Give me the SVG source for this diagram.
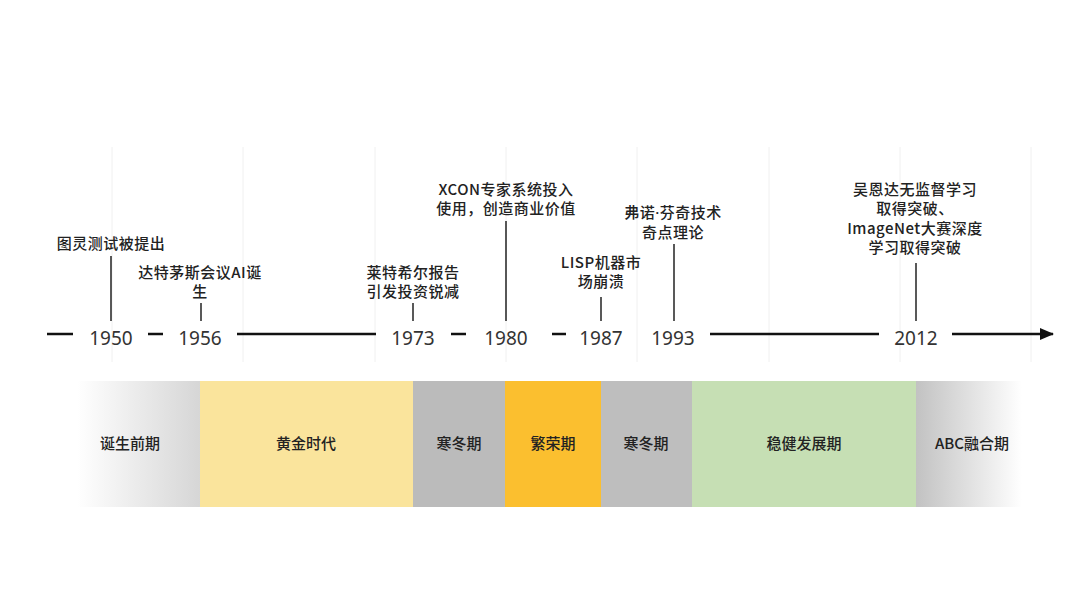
<svg xmlns="http://www.w3.org/2000/svg" width="1080" height="608" viewBox="0 0 1080 608">
<defs>
<linearGradient id="gl" x1="77" y1="0" x2="200" y2="0" gradientUnits="userSpaceOnUse">
<stop offset="0" stop-color="#ffffff"/>
<stop offset="1" stop-color="#d6d6d6"/>
</linearGradient>
<linearGradient id="gr" x1="916" y1="0" x2="1022" y2="0" gradientUnits="userSpaceOnUse">
<stop offset="0" stop-color="#c2c2c2"/>
<stop offset="1" stop-color="#ffffff"/>
</linearGradient>
<marker id="arr" markerWidth="14" markerHeight="12" refX="13" refY="6" orient="auto" markerUnits="userSpaceOnUse">
<path d="M0,0 L14,6 L0,12 Z" fill="#111"/>
</marker>
</defs>
<style>
.grid{stroke:#f0f0f0;stroke-width:1;fill:none}
.axis{stroke:#111;stroke-width:2.5;fill:none}
.conn{stroke:#222;stroke-width:1.5;fill:none}
.ev{font-family:"Noto Sans CJK SC","Noto Sans",sans-serif;font-size:15px;font-weight:500;fill:#222;text-anchor:middle;letter-spacing:0.5px}
.yr{font-family:"Noto Sans","Noto Sans CJK SC",sans-serif;font-size:19px;fill:#333;text-anchor:middle}
.bl{font-family:"Noto Sans CJK SC","Noto Sans",sans-serif;font-size:15px;font-weight:500;fill:#222;text-anchor:middle}
.dot{font-family:"Noto Sans",sans-serif}
</style>
<rect width="1080" height="608" fill="#ffffff"/>
<g id="grid">
<line class="grid" x1="112" y1="147" x2="112" y2="362"/>
<line class="grid" x1="243" y1="147" x2="243" y2="362"/>
<line class="grid" x1="375" y1="147" x2="375" y2="362"/>
<line class="grid" x1="506" y1="147" x2="506" y2="362"/>
<line class="grid" x1="637" y1="147" x2="637" y2="362"/>
<line class="grid" x1="769" y1="147" x2="769" y2="362"/>
<line class="grid" x1="900" y1="147" x2="900" y2="362"/>
<line class="grid" x1="1031" y1="147" x2="1031" y2="362"/>
</g>
<g id="axis">
<line class="axis" x1="47" y1="334" x2="73" y2="334"/>
<line class="axis" x1="148" y1="334" x2="163" y2="334"/>
<line class="axis" x1="237" y1="334" x2="376" y2="334"/>
<line class="axis" x1="451" y1="334" x2="466" y2="334"/>
<line class="axis" x1="552" y1="334" x2="566" y2="334"/>
<line class="axis" x1="710" y1="334" x2="879" y2="334"/>
<line class="axis" x1="952" y1="334" x2="1053" y2="334" marker-end="url(#arr)"/>
</g>
<g id="years">
<text class="yr" x="111" y="345">1950</text>
<text class="yr" x="200" y="345">1956</text>
<text class="yr" x="413" y="345">1973</text>
<text class="yr" x="506" y="345">1980</text>
<text class="yr" x="601" y="345">1987</text>
<text class="yr" x="673" y="345">1993</text>
<text class="yr" x="916" y="345">2012</text>
</g>
<g id="connectors">
<line class="conn" x1="111" y1="256" x2="111" y2="321"/>
<line class="conn" x1="201" y1="303" x2="201" y2="321"/>
<line class="conn" x1="413" y1="303" x2="413" y2="321"/>
<line class="conn" x1="506" y1="221" x2="506" y2="321"/>
<line class="conn" x1="601" y1="297" x2="601" y2="321"/>
<line class="conn" x1="674" y1="244" x2="674" y2="321"/>
<line class="conn" x1="916" y1="263" x2="916" y2="321"/>
</g>
<g id="event-1950">
<text class="ev" x="111" y="248.5">图灵测试被提出</text>
</g>
<g id="event-1956">
<text class="ev" x="200" y="278">达特茅斯会议AI诞</text>
<text class="ev" x="200" y="297">生</text>
</g>
<g id="event-1973">
<text class="ev" x="413" y="278">莱特希尔报告</text>
<text class="ev" x="413" y="297">引发投资锐减</text>
</g>
<g id="event-1980">
<text class="ev" x="506" y="195">XCON专家系统投入</text>
<text class="ev" x="506" y="214">使用，创造商业价值</text>
</g>
<g id="event-1987">
<text class="ev" x="601" y="268">LISP机器市</text>
<text class="ev" x="601" y="287">场崩溃</text>
</g>
<g id="event-1993">
<text class="ev" x="673" y="218">弗诺<tspan class="dot">·</tspan>芬奇技术</text>
<text class="ev" x="673" y="237.5">奇点理论</text>
</g>
<g id="event-2012">
<text class="ev" x="915" y="195">吴恩达无监督学习</text>
<text class="ev" x="915" y="214">取得突破、</text>
<text class="ev" x="915" y="233.5">ImageNet大赛深度</text>
<text class="ev" x="915" y="252.5">学习取得突破</text>
</g>
<g id="band-prebirth">
<rect x="77" y="381" width="123" height="126" fill="url(#gl)"/>
<text class="bl" x="130" y="448.5">诞生前期</text>
</g>
<g id="band-golden">
<rect x="200" y="381" width="213" height="126" fill="#fae49c"/>
<text class="bl" x="306" y="448.5">黄金时代</text>
</g>
<g id="band-winter1">
<rect x="413" y="381" width="92" height="126" fill="#bbbbbb"/>
<text class="bl" x="459" y="448.5">寒冬期</text>
</g>
<g id="band-boom">
<rect x="505" y="381" width="96" height="126" fill="#fbbf2f"/>
<text class="bl" x="553" y="448.5">繁荣期</text>
</g>
<g id="band-winter2">
<rect x="601" y="381" width="91" height="126" fill="#bebebe"/>
<text class="bl" x="646" y="448.5">寒冬期</text>
</g>
<g id="band-steady">
<rect x="692" y="381" width="224" height="126" fill="#c6dfb4"/>
<text class="bl" x="804" y="448.5">稳健发展期</text>
</g>
<g id="band-abc">
<rect x="916" y="381" width="106" height="126" fill="url(#gr)"/>
<text class="bl" x="972" y="448.5">ABC融合期</text>
</g>
</svg>
